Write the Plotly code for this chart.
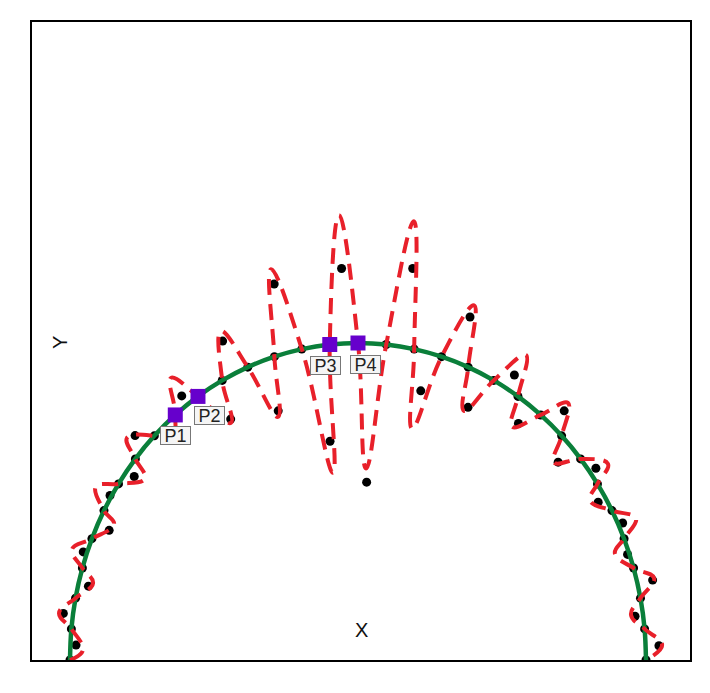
import plotly.graph_objects as go
import numpy as np

# Angles (degrees) of the points lying on the unit semicircle
theta_on = [180.0, 174.375, 168.75, 163.125, 157.5, 151.875, 146.25, 140.625,
            135.0, 129.375, 123.75, 118.125, 112.5, 106.875, 101.25, 95.625,
            90.0, 84.375, 78.75, 73.125, 67.5, 61.875, 56.25, 50.625,
            45.0, 39.375, 33.75, 28.125, 22.5, 16.875, 11.25, 5.625, 0.0]

# Off-circle observed points (black dots), between consecutive on-circle points
x_off = [-0.979, -1.023, -0.936, -0.954, -0.864, -0.861, -0.777, -0.774,
         -0.649, -0.612, -0.442, -0.470, -0.277, -0.291, -0.097, -0.057,
         0.030, 0.190, 0.218, 0.389, 0.382, 0.543, 0.557, 0.716,
         0.695, 0.826, 0.834, 0.919, 0.936, 1.023, 0.962, 1.045]
y_off = [0.047, 0.147, 0.233, 0.341, 0.409, 0.519, 0.579, 0.708,
         0.711, 0.833, 0.760, 1.006, 0.786, 1.186, 0.690, 1.235,
         0.561, 1.235, 0.849, 1.082, 0.797, 0.899, 0.746, 0.786,
         0.624, 0.605, 0.498, 0.432, 0.333, 0.252, 0.138, 0.045]

# Extremes of the red dashed curve between consecutive on-circle points
x_red = [-0.955, -1.038, -0.920, -0.993, -0.847, -0.910, -0.740, -0.802,
         -0.646, -0.649, -0.441, -0.476, -0.278, -0.302, -0.087, -0.066,
         0.028, 0.194, 0.188, 0.403, 0.368, 0.583, 0.535, 0.729,
         0.681, 0.868, 0.806, 0.965, 0.892, 1.028, 0.948, 1.056]
y_red = [0.031, 0.148, 0.242, 0.349, 0.428, 0.547, 0.572, 0.701,
         0.692, 0.890, 0.748, 1.038, 0.767, 1.233, 0.591, 1.403,
         0.604, 1.384, 0.730, 1.119, 0.786, 0.962, 0.736, 0.811,
         0.623, 0.619, 0.503, 0.447, 0.336, 0.258, 0.142, 0.047]

# Highlighted points (index into theta_on) and their labels
mark_idx = [9, 10, 15, 16]
mark_labels = ["P1", "P2", "P3", "P4"]
label_shift_x = [0, 12, -4, 8]
label_shift_y = [-21, -19, -21, -21]

th = np.radians(theta_on)
x_on = np.cos(th)
y_on = np.sin(th)

dots_x, dots_y, red_x, red_y = [], [], [], []
for i in range(len(theta_on)):
    dots_x.append(x_on[i]); dots_y.append(y_on[i])
    red_x.append(x_on[i]); red_y.append(y_on[i])
    if i < len(x_off):
        dots_x.append(x_off[i]); dots_y.append(y_off[i])
        red_x.append(x_red[i]); red_y.append(y_red[i])

fig = go.Figure()
fig.add_trace(go.Scatter(x=dots_x, y=dots_y, mode="markers",
                         marker=dict(color="black", size=9), hoverinfo="skip"))
fig.add_trace(go.Scatter(x=x_on, y=y_on, mode="lines",
                         line=dict(color="#0a7f3a", width=4.5, shape="spline"),
                         hoverinfo="skip"))
fig.add_trace(go.Scatter(x=red_x, y=red_y, mode="lines",
                         line=dict(color="#e8202a", width=4, shape="spline",
                                   smoothing=1.2, dash="16px,9px"),
                         hoverinfo="skip"))
mx = [x_on[i] for i in mark_idx]
my = [y_on[i] for i in mark_idx]
fig.add_trace(go.Scatter(x=mx, y=my, mode="markers",
                         marker=dict(color="#6600cc", size=15, symbol="square"),
                         hoverinfo="skip"))

for xx, yy, lab, sx, sy in zip(mx, my, mark_labels, label_shift_x, label_shift_y):
    fig.add_annotation(x=xx, y=yy, text=lab, showarrow=False, xshift=sx, yshift=sy,
                       font=dict(family="Liberation Sans, Arial", size=18, color="#222"),
                       bgcolor="#f5f5f5", bordercolor="#777", borderwidth=1, borderpad=1,
                       width=27, height=15)

fig.add_annotation(xref="paper", yref="paper", x=0.5, y=0.047, text="X", showarrow=False,
                   xanchor="center", yanchor="middle",
                   font=dict(family="Liberation Sans, Arial", size=20, color="#111"))
fig.add_annotation(xref="paper", yref="paper", x=0.0426, y=0.497, text="Y", showarrow=False,
                   textangle=-90, xanchor="center", yanchor="middle",
                   font=dict(family="Liberation Sans, Arial", size=20, color="#111"))

fig.update_xaxes(range=[-1.1319, 1.1528], showgrid=False, zeroline=False,
                 showticklabels=False, ticks="", showline=True, mirror=True,
                 linecolor="black", linewidth=2)
fig.update_yaxes(range=[0, 2.0126], showgrid=False, zeroline=False,
                 showticklabels=False, ticks="", showline=True, mirror=True,
                 linecolor="black", linewidth=2)
fig.update_layout(width=702, height=685, showlegend=False,
                  margin=dict(l=24, r=20, t=12, b=33),
                  paper_bgcolor="white", plot_bgcolor="white")

fig.write_html("out.html")
